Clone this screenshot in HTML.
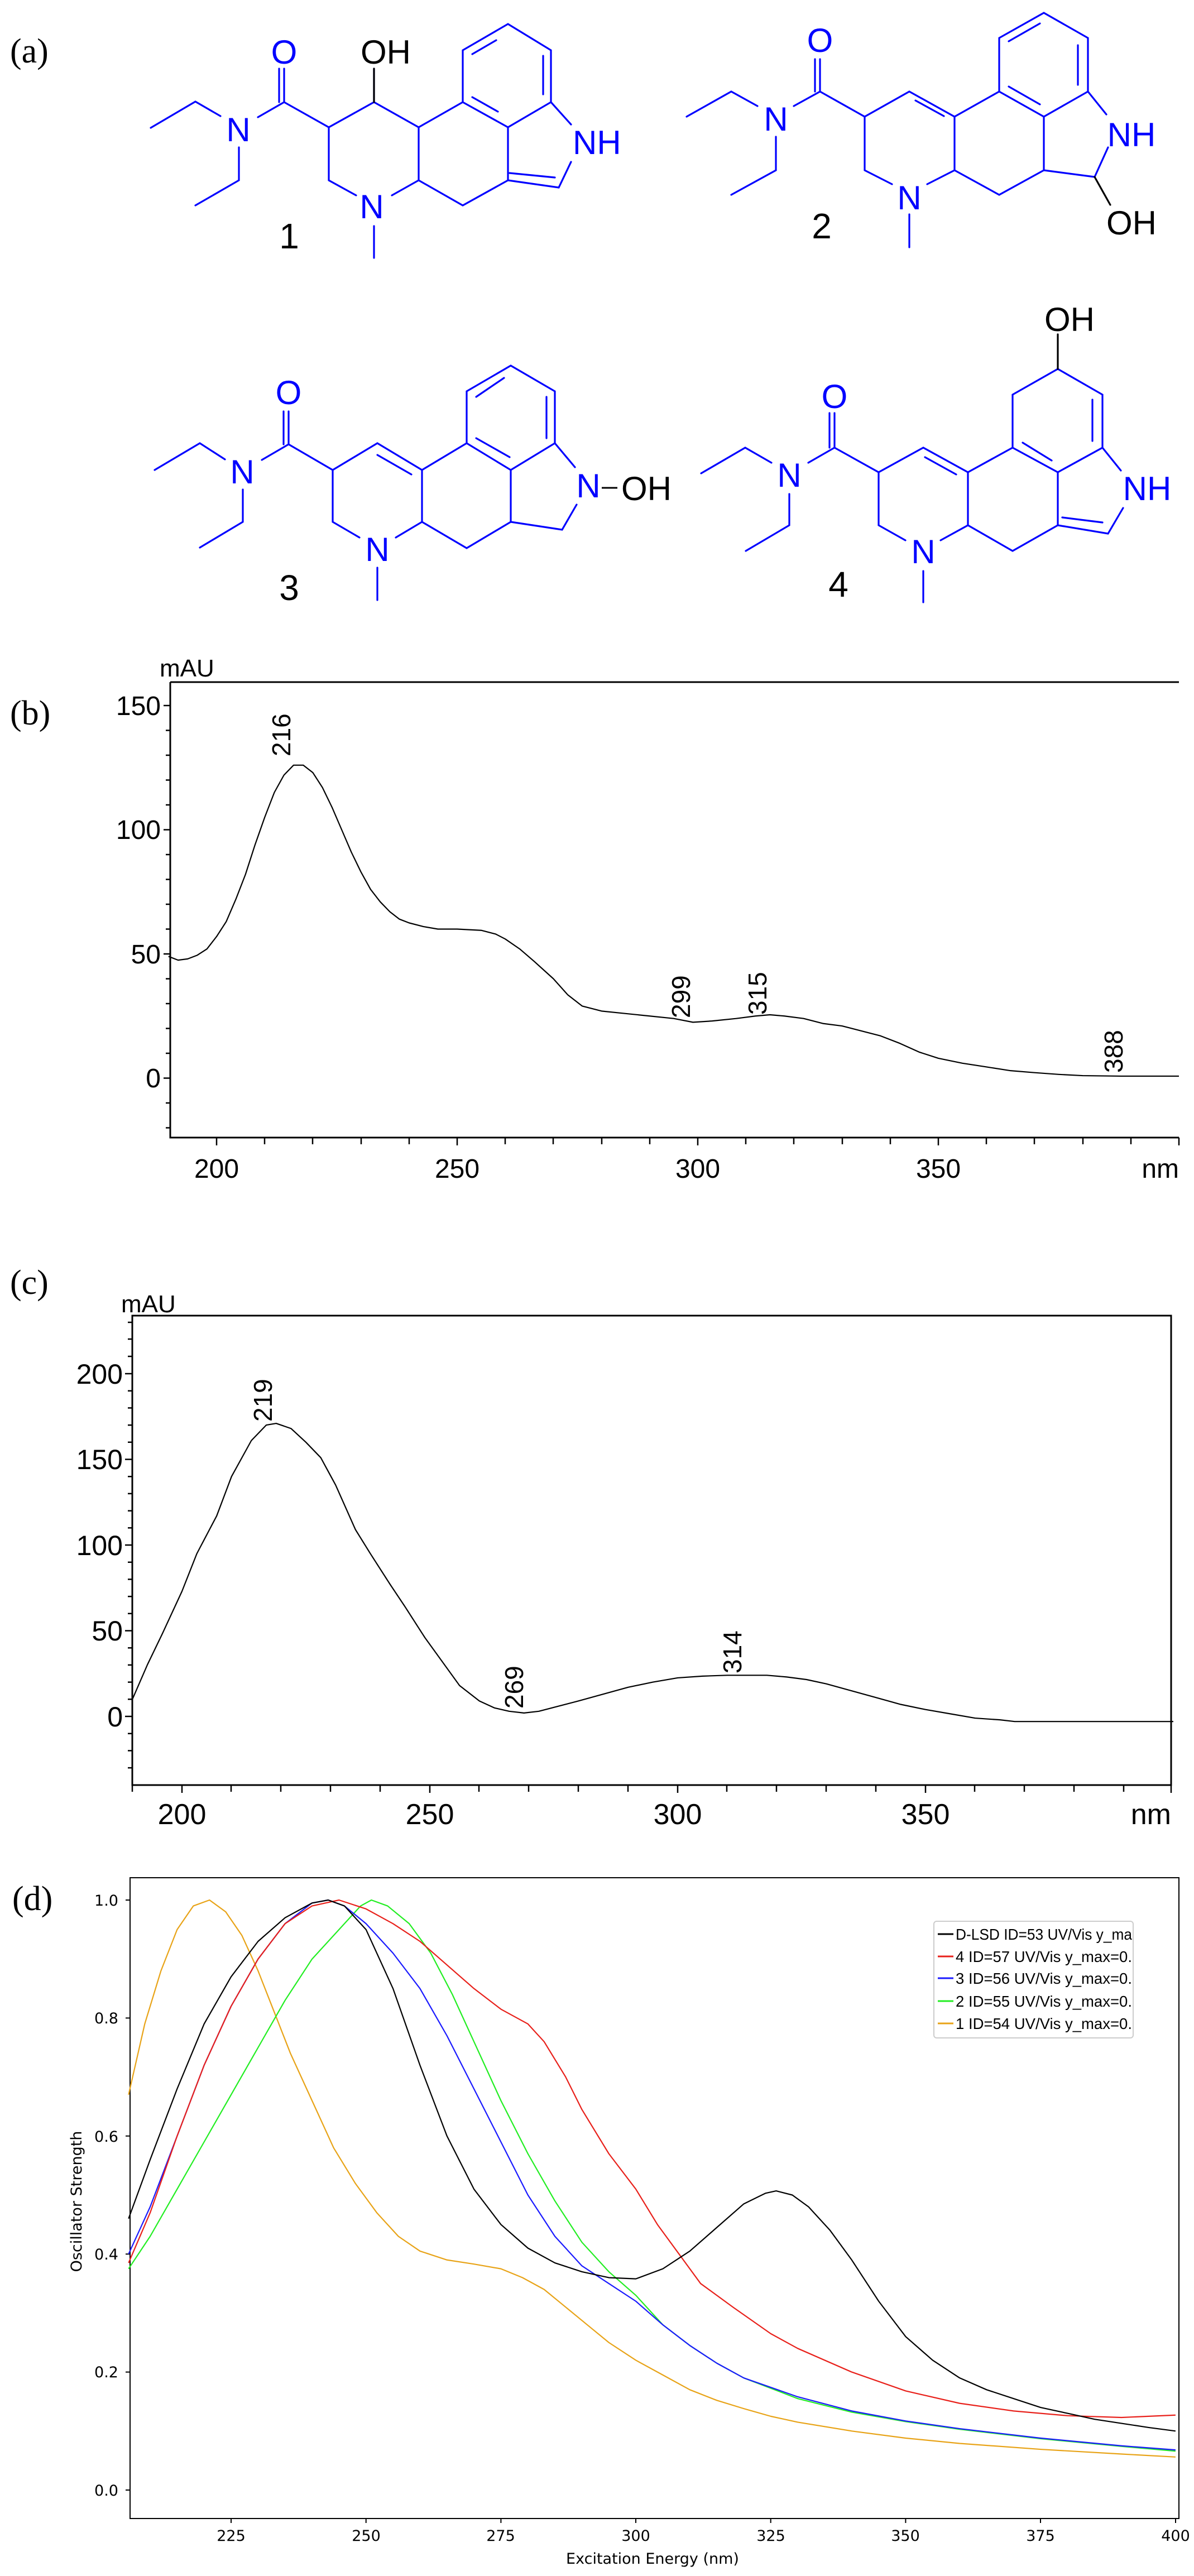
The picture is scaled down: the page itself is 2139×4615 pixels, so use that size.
<!DOCTYPE html>
<html><head><meta charset="utf-8"><style>
html,body{margin:0;padding:0;background:#fff}
svg{display:block}
.b{stroke:#0000ff;stroke-width:3.2;fill:none;stroke-linecap:round}
.at{font-family:"Liberation Sans",sans-serif;font-size:60px;fill:#0000ff;text-anchor:middle}
.ak{font-family:"Liberation Sans",sans-serif;font-size:60px;fill:#000;text-anchor:middle}
.pl{font-family:"Liberation Serif",serif;font-size:62px;fill:#000}
.t1{font-family:"Liberation Sans",sans-serif;font-size:48px;fill:#000}
.pk{font-family:"Liberation Sans",sans-serif;font-size:46px;fill:#000}
.td{font-family:"DejaVu Sans","Liberation Sans",sans-serif;font-size:27px;fill:#000}
.lg{font-family:"Liberation Sans",sans-serif;font-size:28px;fill:#000}
</style></head><body>
<svg width="2139" height="4615" viewBox="0 0 2139 4615" xmlns="http://www.w3.org/2000/svg">
<rect width="2139" height="4615" fill="#fff"/>
<!-- (a) -->
<text class="pl" x="18" y="112">(a)</text>
<!-- Structure 1 -->
<g class="b"><path d="M270,229 L350,182 L395,208 M462,210 L509,183 L509,123 M500,183 L500,123 M428,264 L428,323 L350,368 M509,183 L589,228 L670,183 L750,228 L829,183 M670,183 L670,123 M589,228 L589,323 L638,350 M702,350 L750,323 L750,228 M670,405 L670,462 M750,323 L829,368 L910,323 M829,183 L829,90 L910,43 L987,90 L987,183 L910,228 L829,183 M910,228 L910,323 M987,183 L1023,223 M1023,290 L1001,336 L910,323 M846,97 L889,72 M973,100 L973,169 M846,174 L892,200 M913,310 L994,318" style="stroke:#0000ff"/><path d="M670,183 L670,123" stroke="#000"/></g>
<text class="at" x="509" y="114">O</text>
<text class="ak" x="691" y="114">OH</text>
<text class="at" x="427" y="253">N</text>
<text class="at" x="666" y="391">N</text>
<text class="at" x="1026" y="276" style="text-anchor:start">NH</text>
<text class="ak" x="518" y="445" style="font-size:64px">1</text>
<!-- Structure 2 -->
<g class="b"><path d="M1230,209 L1310,164 L1357,190 M1422,190 L1469,164 L1469,106 M1460,164 L1460,106 M1390,245 L1390,305 L1310,349 M1469,164 L1549,209 L1629,164 L1710,209 L1790,164 M1640,180 L1691,208 M1549,209 L1549,305 L1598,330 M1661,330 L1710,305 L1710,209 M1629,384 L1629,443 M1710,305 L1790,349 L1870,305 M1790,164 L1790,68 L1870,23 L1949,68 L1949,164 L1870,209 L1790,164 M1870,209 L1870,305 M1949,164 L1982,205 M1985,264 L1961,317 L1870,305 M1807,74 L1863,42 M1931,81 L1931,152 M1807,155 L1863,187"/><path d="M1961,317 L1989,367" stroke="#000"/></g>
<text class="at" x="1469" y="93">O</text>
<text class="at" x="1390" y="234">N</text>
<text class="at" x="1629" y="375">N</text>
<text class="at" x="2027" y="262">NH</text>
<text class="ak" x="2027" y="420">OH</text>
<text class="ak" x="1472" y="427" style="font-size:64px">2</text>
<!-- Structure 3 -->
<g class="b"><path d="M277,842 L358,794 L403,823 M469,824 L517,796 L517,737 M508,796 L508,737 M435,877 L435,935 L358,981 M517,796 L596,842 L676,794 L756,842 L836,794 M676,815 L737,850 M596,842 L596,935 L644,963 M709,963 L756,935 L756,842 M676,1017 L676,1075 M756,935 L836,982 L915,935 M836,794 L836,701 L915,655 L994,701 L994,794 L915,842 L836,794 M915,842 L915,935 M994,794 L1030,837 M1033,904 L1007,949 L915,935 M853,711 L903,677 M979,711 L979,785 M853,785 L913,819"/></g>
<line x1="1078" y1="874" x2="1106" y2="874" stroke="#000" stroke-width="3"/>
<text class="at" x="517" y="724">O</text>
<text class="at" x="434" y="866">N</text>
<text class="at" x="676" y="1005">N</text>
<text class="at" x="1054" y="891">N</text>
<text class="ak" x="1113" y="896" style="text-anchor:start">OH</text>
<text class="ak" x="518" y="1075" style="font-size:64px">3</text>
<!-- Structure 4 -->
<g class="b"><path d="M1256,848 L1335,802 L1382,829 M1448,829 L1495,802 L1495,740 M1486,802 L1486,740 M1414,885 L1414,941 L1336,987 M1495,802 L1574,846 L1654,802 L1734,846 L1814,802 M1657,819 L1713,850 M1574,846 L1574,941 L1622,968 M1685,968 L1734,941 L1734,846 M1654,1023 L1654,1079 M1734,941 L1814,987 L1895,941 M1814,802 L1814,707 L1895,661 L1975,707 L1975,802 L1895,846 L1814,802 M1895,846 L1895,941 M1975,802 L2008,843 M2012,910 L1985,956 L1895,941 M1957,716 L1957,790 M1832,793 L1884,825 M1903,927 L1975,936"/><path d="M1895,661 L1895,599" stroke="#000"/></g>
<text class="at" x="1495" y="731">O</text>
<text class="at" x="1414" y="872">N</text>
<text class="at" x="1654" y="1009">N</text>
<text class="ak" x="1916" y="593">OH</text>
<text class="at" x="2055" y="896">NH</text>
<text class="ak" x="1502" y="1069" style="font-size:64px">4</text>

<!-- (b) -->
<text class="pl" x="18" y="1298">(b)</text>
<text class="t1" x="286" y="1212" style="font-size:44px">mAU</text>
<path d="M305,1222 L2112,1222 M305,1222 L305,2038 L2112,2038" stroke="#000" stroke-width="3" fill="none"/>
<g stroke="#000" stroke-width="2.5">
<line x1="293" y1="1264" x2="305" y2="1264"/><line x1="293" y1="1486.5" x2="305" y2="1486.5"/><line x1="293" y1="1709" x2="305" y2="1709"/><line x1="293" y1="1931.5" x2="305" y2="1931.5"/>
<path d="M297,1308.5h8M297,1353h8M297,1397.5h8M297,1442h8M297,1531h8M297,1575.5h8M297,1620h8M297,1664.5h8M297,1753.5h8M297,1798h8M297,1842.5h8M297,1887h8M297,1976h8M297,2020.5h8"/>
<path d="M388,2038v14M474,2038v12M560,2038v12M647,2038v12M733,2038v12M819,2038v14M905,2038v12M991,2038v12M1078,2038v12M1164,2038v12M1250,2038v14M1336,2038v12M1422,2038v12M1509,2038v12M1595,2038v12M1681,2038v14M1767,2038v12M1853,2038v12M1940,2038v12M2026,2038v12M2112,2038v14"/>
</g>
<g class="t1" text-anchor="end"><text x="288" y="1281">150</text><text x="288" y="1503">100</text><text x="288" y="1726">50</text><text x="288" y="1948">0</text></g>
<g class="t1" text-anchor="middle"><text x="388" y="2110">200</text><text x="819" y="2110">250</text><text x="1250" y="2110">300</text><text x="1681" y="2110">350</text></g>
<text class="t1" x="2112" y="2110" text-anchor="end">nm</text>
<g transform="matrix(8.62 0 0 -4.45 -1336 1931.5)"><polyline vector-effect="non-scaling-stroke" fill="none" stroke="#000" stroke-width="2.2" stroke-linejoin="round" points="190,49 192,47.5 194,48 196,49.5 198,52 200,57 202,63 204,72 206,82 208,94 210,105 212,115 214,122 216,126 218,126 220,123 222,117 224,109 226,100 228,91 230,83 232,76 234,71 236,67 238,64 240,62.5 243,61 246,60 250,60 255,59.5 258,58 260,56 263,52 266,47 270,40 273,33.5 276,29 280,27 285,26 290,25 295,24 299,22.5 303,23 308,24 312,25 315,25.5 318,25 322,24 326,22 330,21 334,19 338,17 342,14 346,10.5 350,8 355,6 360,4.5 365,3 370,2.2 375,1.5 380,1 388,0.8 400,0.8"/></g>
<g class="pk"><text transform="translate(520,1355) rotate(-90)">216</text><text transform="translate(1236,1824) rotate(-90)">299</text><text transform="translate(1373,1818) rotate(-90)">315</text><text transform="translate(2011,1922) rotate(-90)">388</text></g>

<!-- (c) -->
<text class="pl" x="18" y="2318">(c)</text>
<text class="t1" x="217" y="2351" style="font-size:44px">mAU</text>
<rect x="237" y="2357" width="1861" height="841" fill="none" stroke="#000" stroke-width="3"/>
<g stroke="#000" stroke-width="2.5">
<path d="M224,2461h13M224,2614.5h13M224,2768h13M224,2921.5h13M224,3075h13"/>
<path d="M229,2369h8M229,2399h8M229,2430h8M229,2491.7h8M229,2522.4h8M229,2553.1h8M229,2583.8h8M229,2645.2h8M229,2675.9h8M229,2706.6h8M229,2737.3h8M229,2798.7h8M229,2829.4h8M229,2860.1h8M229,2890.8h8M229,2952.2h8M229,2982.9h8M229,3013.6h8M229,3044.3h8M229,3105.7h8M229,3136.4h8M229,3167.1h8"/>
<path d="M237,3198v12M326,3198v14M414,3198v12M503,3198v12M592,3198v12M681,3198v12M770,3198v14M858,3198v12M947,3198v12M1036,3198v12M1125,3198v12M1214,3198v14M1302,3198v12M1391,3198v12M1480,3198v12M1569,3198v12M1658,3198v14M1746,3198v12M1835,3198v12M1924,3198v12M2013,3198v12M2098,3198v14"/>
</g>
<g class="t1" text-anchor="end" style="font-size:50px"><text x="220" y="2479">200</text><text x="220" y="2632">150</text><text x="220" y="2786">100</text><text x="220" y="2939">50</text><text x="220" y="3093">0</text></g>
<g class="t1" text-anchor="middle" style="font-size:52px"><text x="326" y="3268">200</text><text x="770" y="3268">250</text><text x="1214" y="3268">300</text><text x="1658" y="3268">350</text></g>
<text class="t1" x="2098" y="3268" text-anchor="end" style="font-size:52px">nm</text>
<g transform="matrix(8.88 0 0 -3.07 -1450 3075)"><polyline vector-effect="non-scaling-stroke" fill="none" stroke="#000" stroke-width="2.2" stroke-linejoin="round" points="190,10 193,30 196,48 200,73 203,95 207,117 210,140 214,161 217,170 219,171 222,168 225,160 228,151 231,135 235,109 238,95 242,77 245,64 249,46 252,34 256,18 260,9 263,5 266,3 269,2 272,3 276,6 280,9 285,13 290,17 295,20 300,22.5 305,23.5 310,24 314,24 318,24 322,23 326,21.5 330,19 335,15 340,11 345,7 350,4 355,1.5 360,-1 365,-2 368,-3 400,-3"/></g>
<g class="pk"><text transform="translate(487,2547) rotate(-90)">219</text><text transform="translate(937,3061) rotate(-90)">269</text><text transform="translate(1328,2998) rotate(-90)">314</text></g>

<!-- (d) -->
<text class="pl" x="22" y="3422">(d)</text>
<rect x="233" y="3364" width="1879" height="1148" fill="none" stroke="#000" stroke-width="2"/>
<g stroke="#000" stroke-width="2">
<path d="M225,3404h8M225,3615.4h8M225,3826.8h8M225,4038.2h8M225,4249.6h8M225,4461h8"/>
<path d="M414,4512v8M655.7,4512v8M897.4,4512v8M1139,4512v8M1380.7,4512v8M1622.4,4512v8M1864,4512v8M2106,4512v8"/>
</g>
<g class="td" text-anchor="end"><text x="212" y="3414">1.0</text><text x="212" y="3625">0.8</text><text x="212" y="3837">0.6</text><text x="212" y="4048">0.4</text><text x="212" y="4259">0.2</text><text x="212" y="4471">0.0</text></g>
<g class="td" text-anchor="middle"><text x="414" y="4552">225</text><text x="656" y="4552">250</text><text x="897" y="4552">275</text><text x="1139" y="4552">300</text><text x="1381" y="4552">325</text><text x="1622" y="4552">350</text><text x="1864" y="4552">375</text><text x="2106" y="4552">400</text></g>
<text class="td" x="1169" y="4593" text-anchor="middle">Excitation Energy (nm)</text>
<text class="td" transform="translate(146,3944) rotate(-90)" text-anchor="middle">Oscillator Strength</text>
<g transform="matrix(9.668 0 0 -1057 -1761.3 4461)" fill="none" stroke-width="2.2" stroke-linejoin="round">
<polyline vector-effect="non-scaling-stroke" stroke="#e8a317" points="206,0.67 209,0.79 212,0.88 215,0.95 218,0.99 221,1.0 224,0.98 227,0.94 230,0.88 233,0.81 236,0.74 240,0.66 244,0.58 248,0.52 252,0.47 256,0.43 260,0.405 265,0.39 270,0.383 275,0.375 279,0.36 283,0.34 287,0.31 291,0.28 295,0.25 300,0.22 305,0.195 310,0.17 315,0.152 320,0.138 325,0.125 330,0.115 340,0.1 350,0.088 360,0.079 375,0.069 390,0.061 400,0.056"/>
<polyline vector-effect="non-scaling-stroke" stroke="#22ee22" points="206,0.375 210,0.43 215,0.51 220,0.59 225,0.67 230,0.75 235,0.83 240,0.9 245,0.95 249,0.99 251,1.0 254,0.99 258,0.96 262,0.91 266,0.84 270,0.76 275,0.66 280,0.57 285,0.49 290,0.42 295,0.37 300,0.33 305,0.28 310,0.245 315,0.215 320,0.19 330,0.155 340,0.132 350,0.116 360,0.103 375,0.087 390,0.074 400,0.066"/>
<polyline vector-effect="non-scaling-stroke" stroke="#1a1aff" points="206,0.40 210,0.48 215,0.6 220,0.72 225,0.82 230,0.9 235,0.96 240,0.995 243,1.0 246,0.99 250,0.96 255,0.91 260,0.85 265,0.77 270,0.68 275,0.59 280,0.5 285,0.43 290,0.38 295,0.35 300,0.32 305,0.28 310,0.245 315,0.215 320,0.19 330,0.158 340,0.134 350,0.117 360,0.104 375,0.088 390,0.075 400,0.068"/>
<polyline vector-effect="non-scaling-stroke" stroke="#e8201a" points="206,0.385 210,0.47 215,0.6 220,0.72 225,0.82 230,0.9 235,0.96 240,0.99 245,1.0 250,0.985 255,0.96 260,0.93 265,0.89 270,0.85 275,0.815 280,0.79 283,0.76 287,0.7 290,0.645 295,0.57 300,0.51 304,0.45 308,0.40 312,0.35 318,0.31 325,0.265 330,0.24 340,0.2 350,0.168 360,0.147 370,0.134 380,0.126 390,0.123 400,0.127"/>
<polyline vector-effect="non-scaling-stroke" stroke="#000" points="206,0.46 210,0.56 215,0.68 220,0.79 225,0.87 230,0.93 235,0.97 240,0.995 243,1.0 246,0.99 250,0.95 255,0.85 260,0.72 265,0.6 270,0.51 275,0.45 280,0.41 285,0.385 290,0.37 295,0.36 300,0.358 305,0.375 310,0.405 315,0.445 320,0.485 324,0.503 326,0.507 329,0.5 332,0.48 336,0.44 340,0.39 345,0.32 350,0.26 355,0.22 360,0.19 365,0.17 370,0.155 375,0.14 380,0.13 385,0.12 390,0.113 395,0.106 400,0.1"/>
</g>
<rect x="1673" y="3442" width="357" height="209" rx="5" fill="#fff" stroke="#ccc" stroke-width="2"/>
<g stroke-width="3"><line x1="1680" y1="3465" x2="1708" y2="3465" stroke="#000"/><line x1="1680" y1="3505" x2="1708" y2="3505" stroke="#e8201a"/><line x1="1680" y1="3544" x2="1708" y2="3544" stroke="#1a1aff"/><line x1="1680" y1="3585" x2="1708" y2="3585" stroke="#22ee22"/><line x1="1680" y1="3625" x2="1708" y2="3625" stroke="#e8a317"/></g>
<g class="lg"><text x="1712" y="3475" textLength="316" lengthAdjust="spacingAndGlyphs">D-LSD ID=53 UV/Vis y_ma</text><text x="1712" y="3515" textLength="316" lengthAdjust="spacingAndGlyphs">4 ID=57 UV/Vis y_max=0.</text><text x="1712" y="3554" textLength="316" lengthAdjust="spacingAndGlyphs">3 ID=56 UV/Vis y_max=0.</text><text x="1712" y="3595" textLength="316" lengthAdjust="spacingAndGlyphs">2 ID=55 UV/Vis y_max=0.</text><text x="1712" y="3635" textLength="316" lengthAdjust="spacingAndGlyphs">1 ID=54 UV/Vis y_max=0.</text></g>
</svg>
</body></html>
